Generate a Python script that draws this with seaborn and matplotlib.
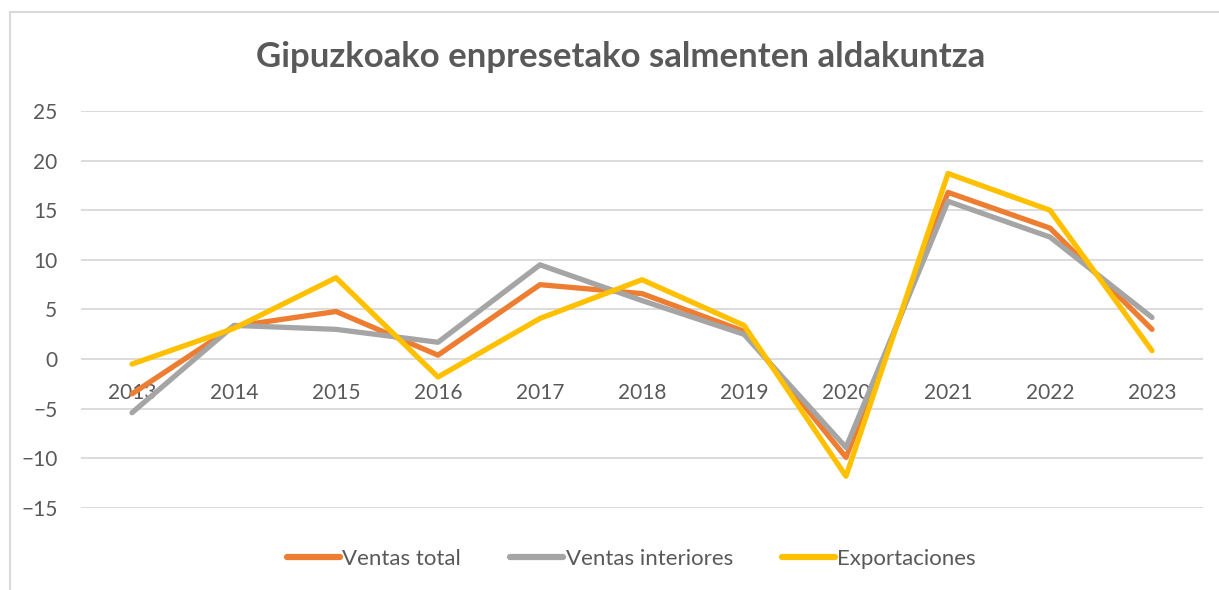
import pandas as pd
import matplotlib.pyplot as plt
import seaborn as sns
from matplotlib.lines import Line2D

# Data
years = [2013, 2014, 2015, 2016, 2017, 2018, 2019, 2020, 2021, 2022, 2023]
ventas_total = [-3.5, 3.3, 4.8, 0.4, 7.5, 6.6, 2.8, -9.9, 16.8, 13.2, 3.0]
ventas_interiores = [-5.4, 3.4, 3.0, 1.7, 9.5, 5.9, 2.5, -8.9, 15.9, 12.3, 4.2]
exportaciones = [-0.5, 3.1, 8.2, -1.8, 4.1, 8.0, 3.4, -11.8, 18.7, 15.0, 0.85]
series_names = ["Ventas total", "Ventas interiores", "Exportaciones"]
palette = ["#ED7D31", "#A5A5A5", "#FFC000"]

df = pd.DataFrame({"year": years,
                   "Ventas total": ventas_total,
                   "Ventas interiores": ventas_interiores,
                   "Exportaciones": exportaciones})
long_df = df.melt(id_vars="year", var_name="serie", value_name="valor")

sns.set_style("white")
plt.rcParams["font.family"] = ["Lato", "DejaVu Sans"]
text_color = "#595959"

fig = plt.figure(figsize=(12.19, 5.90), dpi=100)
ax = fig.add_axes([81 / 1219, 1 - 508 / 590, (1203 - 81) / 1219, (508 - 111) / 590])

sns.lineplot(data=long_df, x="year", y="valor", hue="serie", hue_order=series_names,
             palette=palette, linewidth=3.8, ax=ax, legend=False)

ax.set_xlim(2012.5, 2023.5)
ax.set_ylim(-15, 25)
ax.set_yticks(range(-15, 30, 5))
ax.set_xticks(years)
ax.set_xticklabels([str(y) for y in years])
ax.grid(axis="y", color="#D9D9D9", linewidth=1.3)
ax.set_axisbelow(True)
for s in ax.spines.values():
    s.set_visible(False)
ax.spines["bottom"].set_position(("data", 0))
ax.tick_params(axis="x", length=0, pad=17, labelsize=15, labelcolor=text_color)
ax.tick_params(axis="y", length=0, pad=17, labelsize=15, labelcolor=text_color)
ax.set_xlabel("")
ax.set_ylabel("")

fig.text(0.509, 1 - 57 / 590, "Gipuzkoako enpresetako salmenten aldakuntza",
         ha="center", va="center", fontsize=25, fontweight="bold", color=text_color)

handles = [Line2D([0], [0], color=c, linewidth=4.5, solid_capstyle="round") for c in palette]
fig.legend(handles, series_names, loc="center", bbox_to_anchor=(0.518, 1 - 559 / 590),
           ncol=3, frameon=False, fontsize=16, labelcolor=text_color,
           handlelength=2.4, handletextpad=0.1, columnspacing=2.2)

# chart-area border (left and top only visible)
fig.add_artist(Line2D([10 / 1219, 10 / 1219], [0, 1 - 12 / 590], color="#D9D9D9", linewidth=1.5))
fig.add_artist(Line2D([10 / 1219, 1], [1 - 12 / 590, 1 - 12 / 590], color="#D9D9D9", linewidth=1.5))

fig.savefig("out.png", dpi=100)
